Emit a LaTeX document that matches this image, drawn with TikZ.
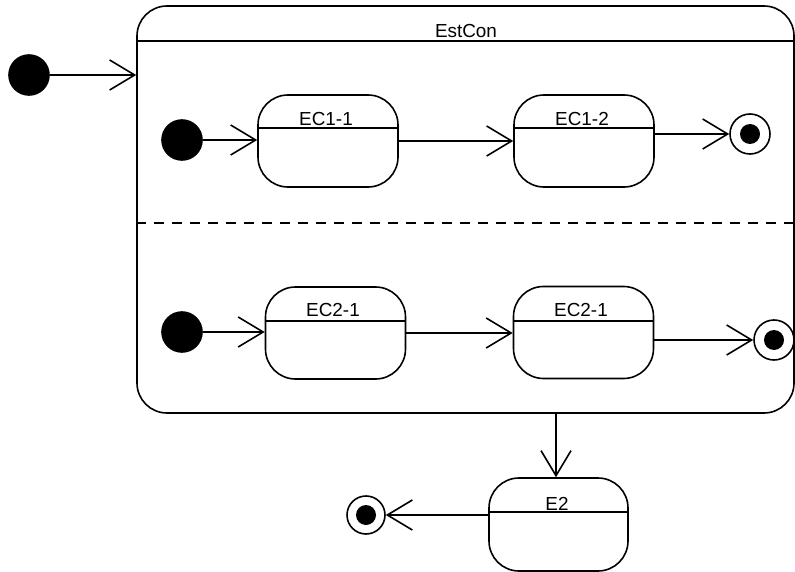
\documentclass[tikz,border=0pt]{standalone}
\usepackage{fontspec}
\setmainfont{Liberation Sans}
\usetikzlibrary{arrows.meta}
\begin{document}
\begin{tikzpicture}[x=1bp,y=-1bp,
  line width=1.6bp,
  font=\fontsize{18.9bp}{21bp}\selectfont,
  every node/.style={inner sep=0pt},
  initst/.style={circle, fill=black, draw=black, minimum size=40bp},
  finalst/.style={circle, draw=black, fill=white, minimum size=40bp,
    path picture={\fill[black] (path picture bounding box.center) circle (10bp);}},
  statebox/.style={draw, rounded corners=30bp, minimum width=140bp, minimum height=92bp},
  trans/.style={-{Straight Barb[length=25bp,width=30bp]}},
  lbl/.style={anchor=center}
]
\useasboundingbox (0,0) rectangle (795,572);

% composite state
\node[draw, rounded corners=30bp, minimum width=657bp, minimum height=407bp] (comp) at (465.5,209.5) {};
\coordinate (hdrY) at (0,41);
\draw (comp.west |- hdrY) -- (comp.east |- hdrY);
\node[lbl] (compl) at (466,30.5) {EstCon};
\coordinate (dashY) at (0,223);
\draw[dash pattern=on 10bp off 8bp] (comp.west |- dashY) -- (comp.east |- dashY);

% outer initial
\node[initst] (i0) at (29,75) {};
\draw[trans] (i0) -- (i0 -| comp.west);

% region 1
\node[initst] (i1) at (182,140) {};
\node[statebox] (ec11) at (328,141) {};
\draw (ec11.west |- 0,128) -- (ec11.east |- 0,128);
\node[lbl] (ec11l) at (326,119) {EC1-1};
\node[statebox] (ec12) at (584,141) {};
\draw (ec12.west |- 0,128) -- (ec12.east |- 0,128);
\node[lbl] (ec12l) at (582,119) {EC1-2};
\node[finalst] (f1) at (750,134) {};
\draw[trans] (i1) -- (i1 -| ec11.west);
\draw[trans] (ec11.east) -- (ec12.west);
\draw[trans] (ec12.east |- f1) -- (f1);

% region 2
\node[initst] (i2) at (182,332) {};
\node[statebox] (ec21) at (335.5,333) {};
\draw (ec21.west |- 0,321) -- (ec21.east |- 0,321);
\node[lbl] (ec21l) at (333,310) {EC2-1};
\node[statebox] (ec22) at (583.5,332.5) {};
\draw (ec22.west |- 0,321) -- (ec22.east |- 0,321);
\node[lbl] (ec22l) at (581,310) {EC2-1};
\node[finalst] (f2) at (774,340) {};
\draw[trans] (i2) -- (i2 -| ec21.west);
\draw[trans] (ec21.east) -- (ec22.west |- ec21.east);
\draw[trans] (ec22.east |- f2) -- (f2);

% E2
\node[statebox, minimum width=139bp, minimum height=93bp] (e2) at (558.5,524.5) {};
\draw (e2.west |- 0,512) -- (e2.east |- 0,512);
\node[lbl] (e2l) at (557,503.5) {E2};
\node[finalst, minimum size=38bp] (f3) at (366,515) {};
\draw[trans] (comp.south -| 556,0) -- (556,0 |- e2.north);
\draw[trans] (e2.west |- f3) -- (f3);
\end{tikzpicture}
\end{document}
